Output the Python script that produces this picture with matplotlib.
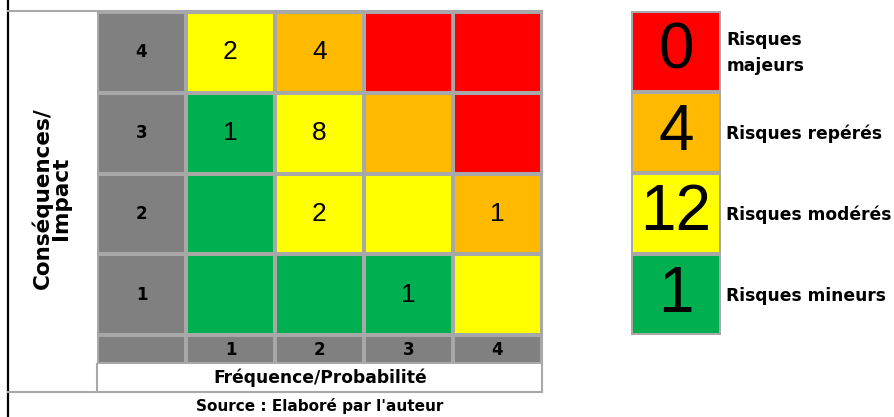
import matplotlib
matplotlib.use("Agg")
import matplotlib.pyplot as plt
from matplotlib.colors import ListedColormap
import numpy as np

# niveaux : 0 gris (en-tete), 1 vert, 2 jaune, 3 orange, 4 rouge
level_colors = ["#808080", "#00B050", "#FFFF00", "#FFBA00", "#FF0000"]

impact_levels = [1, 2, 3, 4]
freq_levels = [1, 2, 3, 4]
# lignes : impact 1 -> 4, colonnes : frequence 1 -> 4
risk_level = [
    [1, 1, 1, 2],
    [1, 2, 2, 3],
    [1, 2, 3, 4],
    [2, 3, 4, 4],
]
risk_count = [
    [None, None, 1, None],
    [None, 2, None, 1],
    [1, 8, None, None],
    [2, 4, None, None],
]

legend_levels = [4, 3, 2, 1]
legend_counts = [0, 4, 12, 1]
legend_labels = ["Risques\nmajeurs", "Risques repérés", "Risques modérés", "Risques mineurs"]

W, H = 895, 417
fig = plt.figure(figsize=(W / 100, H / 100), dpi=100)

def box(x0, y0, x1, y1):
    return [x0 / W, 1 - y1 / H, (x1 - x0) / W, (y1 - y0) / H]

num_font = ["Liberation Sans", "DejaVu Sans"]
bold_font = ["DejaVu Sans"]
grid_col = "#A8A8A8"

# fond / cadre
bg = fig.add_axes([0, 0, 1, 1])
bg.set_xlim(0, W)
bg.set_ylim(H, 0)
bg.axis("off")
bg.plot([8, 8], [0, H], color="black", lw=1.6)
bg.plot([8, 542], [10.5, 10.5], color=grid_col, lw=1.5)
bg.plot([8, 542], [392, 392], color=grid_col, lw=1.5)
bg.plot([542, 542], [10.5, 392], color=grid_col, lw=1.5)
bg.plot([97, 97], [364, 392], color=grid_col, lw=1.5)
bg.text(51, 198, "Conséquences/\nImpact", rotation=90, ha="center", va="center",
        fontsize=15.5, fontweight="bold", family=bold_font, linespacing=0.9)
bg.text(320, 378, "Fréquence/Probabilité", ha="center", va="center",
        fontsize=12.3, fontweight="bold", family=bold_font)
bg.text(320, 406, "Source : Elaboré par l'auteur", ha="center", va="center",
        fontsize=11, fontweight="bold", family=bold_font)

# matrice
ax = fig.add_axes(box(97, 12, 542, 364))
cmap = ListedColormap(level_colors)
head_h = 29 / 81
xedges = np.arange(len(freq_levels) + 2)
yedges = np.concatenate([[0], head_h + np.arange(len(impact_levels) + 1)])
grid = np.zeros((len(impact_levels) + 1, len(freq_levels) + 1), dtype=int)
grid[1:, 1:] = np.array(risk_level)
ax.pcolormesh(xedges, yedges, grid, cmap=cmap, vmin=-0.5, vmax=4.5,
              edgecolors=grid_col, linewidth=1.5)
ax.set_xlim(0, xedges[-1])
ax.set_ylim(0, yedges[-1])
ax.axis("off")

for i, imp in enumerate(impact_levels):
    yc = head_h + i + 0.5
    ax.text(0.5, yc, str(imp), ha="center", va="center", fontsize=12,
            fontweight="bold", family=bold_font)
    for j in range(len(freq_levels)):
        c = risk_count[i][j]
        if c is not None:
            ax.text(j + 1.5, yc, str(c), ha="center", va="center",
                    fontsize=19, family=num_font)
for j, f in enumerate(freq_levels):
    ax.text(j + 1.5, head_h / 2, str(f), ha="center", va="center", fontsize=12,
            fontweight="bold", family=bold_font)

# legende
lg = fig.add_axes(box(631, 11, 721, 335))
lgrid = np.array(legend_levels)[::-1].reshape(-1, 1)
lg.pcolormesh(np.arange(2), np.arange(len(legend_levels) + 1), lgrid, cmap=cmap,
              vmin=-0.5, vmax=4.5, edgecolors=grid_col, linewidth=1.5)
lg.set_xlim(0, 1)
lg.set_ylim(0, len(legend_levels))
lg.axis("off")
n = len(legend_levels)
for k, (cnt, lab) in enumerate(zip(legend_counts, legend_labels)):
    yc = n - k - 0.5
    lg.text(0.5, yc, str(cnt), ha="center", va="center", fontsize=46, family=num_font)
    lg.text(1.06, yc - 0.02, lab, ha="left", va="center", fontsize=12.3,
            fontweight="bold", family=bold_font, clip_on=False, linespacing=1.55)

fig.savefig("out.png", dpi=100)
